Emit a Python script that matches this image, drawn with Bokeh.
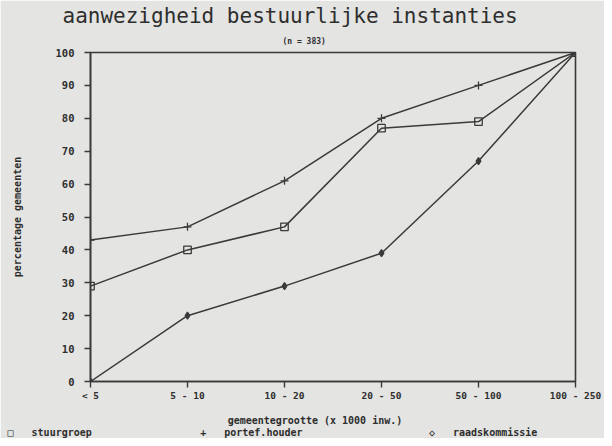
from bokeh.plotting import figure
from bokeh.models import FixedTicker, Range1d, Title
from bokeh.embed import file_html
from bokeh.resources import INLINE

categories = ["< 5", "5 - 10", "10 - 20", "20 - 50", "50 - 100", "100 - 250"]
stuurgroep = [29, 40, 47, 77, 79, 100]
portefhouder = [43, 47, 61, 80, 90, 100]
raadskommissie = [0, 20, 29, 39, 67, 100]
y_ticks = [0, 10, 20, 30, 40, 50, 60, 70, 80, 90, 100]
legend_names = ["stuurgroep", "portef.houder", "raadskommissie"]
legend_symbols = ["\u25a1", "+", "\u25c7"]

BG = "#e4e4e2"
INK = "#3a3a3a"
TXT = "#2e2e2e"
MONO = "DejaVu Sans Mono"
NB = "\u00a0"

xs = list(range(len(categories)))

p = figure(width=604, height=438, output_backend="svg", toolbar_location=None,
           x_range=Range1d(0, len(categories) - 1), y_range=Range1d(0, 100),
           min_border_left=90, min_border_right=29, min_border_top=52, min_border_bottom=57)
p.background_fill_color = BG
p.border_fill_color = BG
p.outline_line_color = INK
p.outline_line_width = 1.6
p.grid.visible = False

for ax in (p.xaxis[0], p.yaxis[0]):
    ax.axis_line_color = INK
    ax.axis_line_width = 1.6
    ax.major_tick_line_color = INK
    ax.major_tick_line_width = 1.4
    ax.major_tick_in = 0
    ax.major_tick_out = 6
    ax.minor_tick_line_color = None
    ax.major_label_text_font = MONO
    ax.major_label_text_font_style = "bold"
    ax.major_label_text_color = TXT
    ax.axis_label_text_font = MONO
    ax.axis_label_text_font_style = "bold"
    ax.axis_label_text_color = TXT
    ax.axis_label_text_font_size = "10px"

p.xaxis.ticker = FixedTicker(ticks=xs)
p.xaxis.major_label_overrides = {i: c for i, c in enumerate(categories)}
p.xaxis.major_label_text_font_size = "9.5px"
p.xaxis.major_label_standoff = 2
p.xaxis.axis_label = "gemeentegrootte (x 1000 inw.)" + NB * 6
p.xaxis.axis_label_standoff = 11
p.yaxis.ticker = FixedTicker(ticks=y_ticks)
p.yaxis.major_label_text_font_size = "10.5px"
p.yaxis.major_label_standoff = 10
p.yaxis.axis_label = "percentage gemeenten"
p.yaxis.axis_label_standoff = 30

series = [(stuurgroep, "square", 7.5, None), (portefhouder, "cross", 8, None), (raadskommissie, "diamond", 7, INK)]
for vals, marker, size, fill in series:
    p.line(xs, vals, line_color=INK, line_width=1.5)
    p.scatter(xs, vals, marker=marker, size=size, line_color=INK, line_width=1.3, fill_color=fill)

# titles (added nearest-to-frame first)
p.title.text = ""
p.title.visible = False
p.add_layout(Title(text="(n = 383)", align="left", offset=192, text_font=MONO,
                   text_font_size="8px", text_font_style="bold", text_color=TXT,
                   standoff=13), "above")
p.add_layout(Title(text="aanwezigheid bestuurlijke instanties", align="left", offset=-28,
                   text_font=MONO, text_font_size="21px", text_font_style="normal",
                   text_color=TXT, standoff=2), "above")

# legend row built from names and symbols in a monospace line
cols = [0, 32, 70]
gap = 4
line = [NB] * 90
for c, sym, name in zip(cols, legend_symbols, legend_names):
    line[c] = sym
    for k, ch in enumerate(name):
        line[c + gap + k] = ch
legend_text = "".join(line).rstrip(NB)
p.add_layout(Title(text=legend_text, align="left", offset=-83, text_font=MONO,
                   text_font_size="10px", text_font_style="bold", text_color=TXT,
                   standoff=-8), "below")

open("out.html", "w").write(file_html(p, INLINE))
